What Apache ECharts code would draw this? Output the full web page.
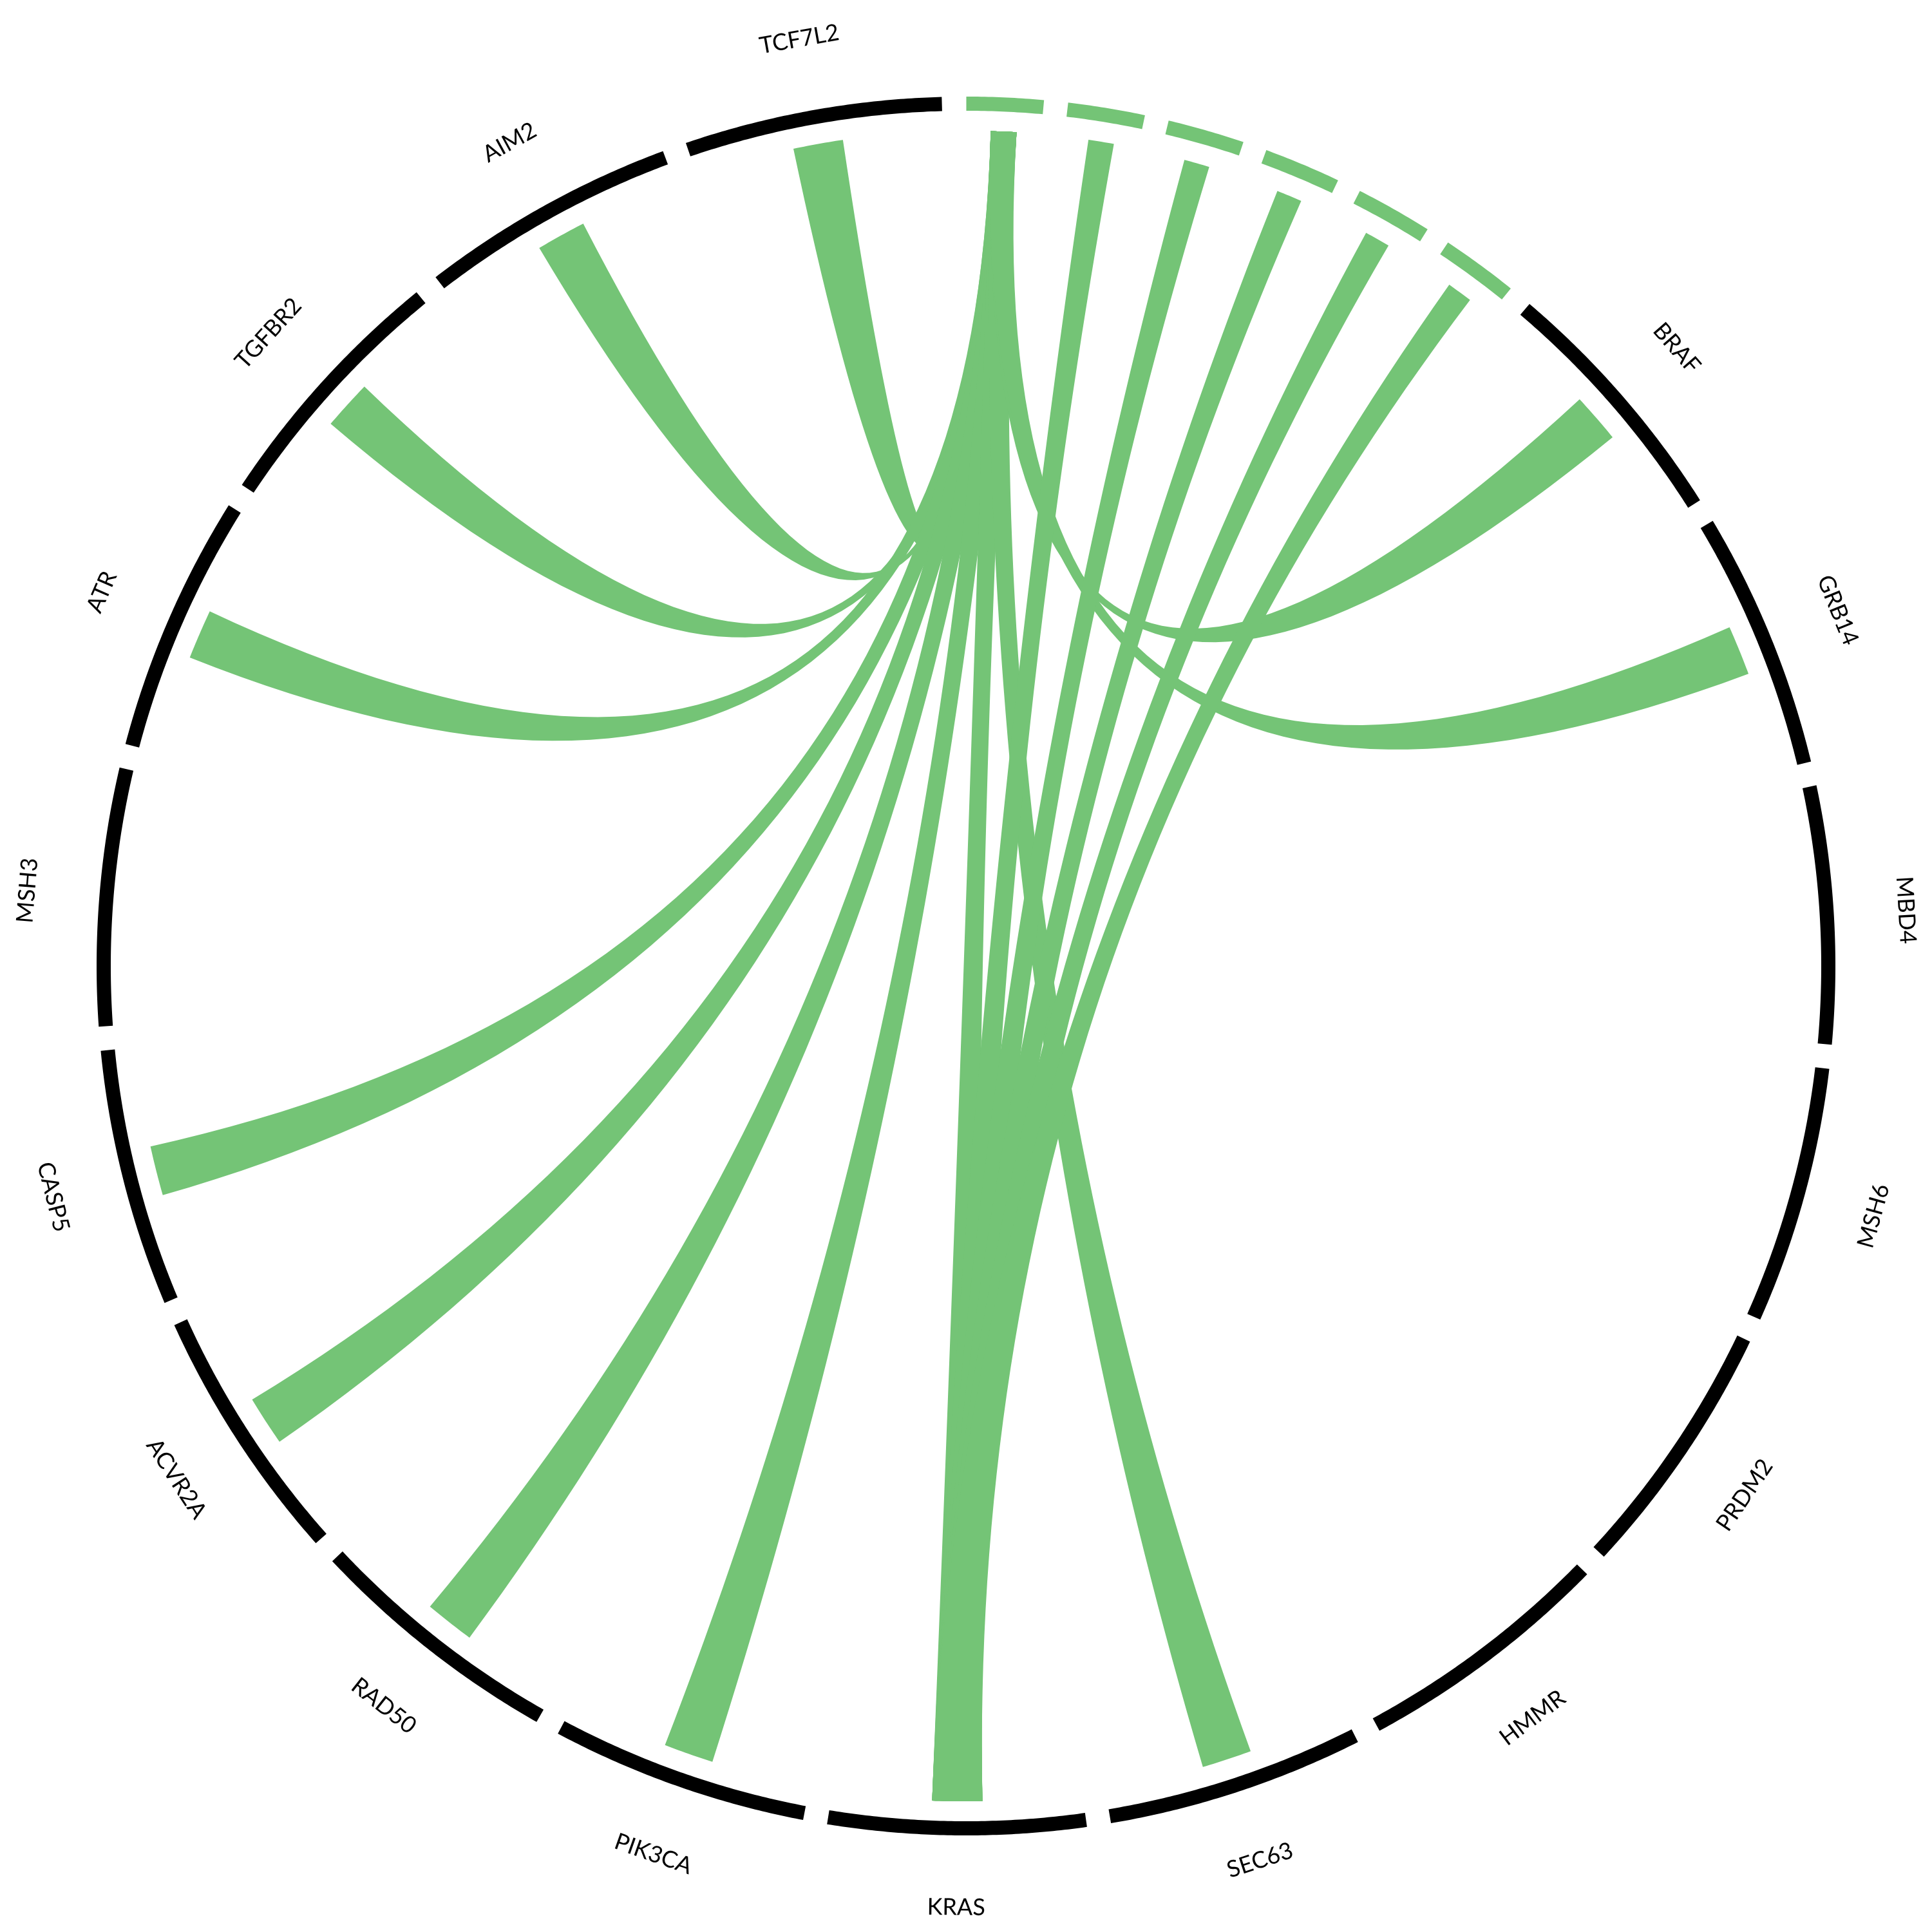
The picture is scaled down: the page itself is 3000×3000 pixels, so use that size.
<!DOCTYPE html>
<html>
<head>
<meta charset="utf-8">
<script src="https://cdn.jsdelivr.net/npm/echarts@6/dist/echarts.min.js"></script>
<style>
html,body{margin:0;padding:0;background:#ffffff;}
#chart{width:3000px;height:3000px;}
</style>
</head>
<body>
<div id="chart"></div>
<script>
// ---- data ----
// unlabeled source nodes (green), clockwise from the top
const sourceNodes = ['S1', 'S2', 'S3', 'S4', 'S5', 'S6'];
// labeled gene nodes (black), clockwise after the source nodes
const geneNodes = ['BRAF', 'GRB14', 'MBD4', 'MSH6', 'PRDM2', 'HMMR', 'SEC63', 'KRAS',
  'PIK3CA', 'RAD50', 'ACVR2A', 'CASP5', 'MSH3', 'ATR', 'TGFBR2', 'AIM2', 'TCF7L2'];
// links
const linkSource = ['S1', 'S1', 'S1', 'S1', 'S1', 'S1', 'S1', 'S1', 'S1', 'S1', 'S1', 'S1',
  'S2', 'S3', 'S4', 'S5', 'S6'];
const linkTarget = ['TCF7L2', 'AIM2', 'TGFBR2', 'ATR', 'CASP5', 'ACVR2A', 'RAD50', 'PIK3CA',
  'KRAS', 'SEC63', 'BRAF', 'GRB14', 'KRAS', 'KRAS', 'KRAS', 'KRAS', 'KRAS'];
const linkValue = [1, 1, 1, 1, 1, 1, 1, 1, 1, 1, 1, 1, 1, 1, 1, 1, 1];

// ---- layout constants (degrees / radius units) ----
const START_ANGLE = 0.02;
const GAP = 1.6;
const SOURCE_SPAN = 5.13;
const GENE_SPAN = 17.2;
const RING_OUTER = 1350;
const RING_INNER = 1328;
const CHORD_R = 1297;
const LABEL_R = 1462;
const SRC_WIDTH = 1.77;   // chord width at source per unit value (deg)
const TGT_WIDTH = 3.45;   // chord width at target per unit value (deg)
const GREEN = '#74c476';

// build node list
const nodes = [];
let cur = START_ANGLE;
sourceNodes.forEach(function (n) {
  nodes.push({ name: n, start: cur, end: cur + SOURCE_SPAN, kind: 'source' });
  cur += SOURCE_SPAN + GAP;
});
geneNodes.forEach(function (n) {
  nodes.push({ name: n, start: cur, end: cur + GENE_SPAN, kind: 'gene' });
  cur += GENE_SPAN + GAP;
});
const nodeMap = {};
nodes.forEach(function (n) { nodeMap[n.name] = n; });

function arcPoints(api, r, a0, a1, pts) {
  const steps = Math.max(4, Math.ceil(Math.abs(a1 - a0) / 0.25));
  for (let i = 0; i <= steps; i++) {
    const a = a0 + (a1 - a0) * i / steps;
    pts.push(api.coord([r, a]));
  }
}
function bezierPoints(p0, c, p2, pts) {
  const steps = 60;
  for (let i = 1; i < steps; i++) {
    const t = i / steps, u = 1 - t;
    pts.push([u * u * p0[0] + 2 * u * t * c[0] + t * t * p2[0],
              u * u * p0[1] + 2 * u * t * c[1] + t * t * p2[1]]);
  }
}

function renderNode(params, api) {
  const n = nodes[params.dataIndex];
  const pts = [];
  arcPoints(api, RING_OUTER, n.start, n.end, pts);
  const inner = [];
  arcPoints(api, RING_INNER, n.start, n.end, inner);
  inner.reverse();
  const children = [{
    type: 'polygon',
    shape: { points: pts.concat(inner) },
    style: { fill: n.kind === 'source' ? GREEN : '#000000' }
  }];
  if (n.kind === 'gene') {
    const mid = (n.start + n.end) / 2;
    const p = api.coord([LABEL_R, mid]);
    let rot = (mid > 90 && mid < 270) ? mid - 180 : mid;
    children.push({
      type: 'text',
      x: p[0], y: p[1],
      rotation: -rot * Math.PI / 180,
      style: {
        text: n.name,
        fill: '#000000',
        fontSize: 36,
        fontFamily: 'Lato',
        fontWeight: 'normal',
        align: 'center',
        verticalAlign: 'middle'
      }
    });
  }
  return { type: 'group', children: children };
}

function renderChord(params, api) {
  const k = params.dataIndex;
  const s = nodeMap[linkSource[k]], t = nodeMap[linkTarget[k]];
  const v = linkValue[k];
  const sm = (s.start + s.end) / 2, tm = (t.start + t.end) / 2;
  const sa = sm - SRC_WIDTH * v / 2, sb = sm + SRC_WIDTH * v / 2;
  const ta = tm - TGT_WIDTH * v / 2, tb = tm + TGT_WIDTH * v / 2;
  const c = api.coord([0, 0]);
  const pts = [];
  arcPoints(api, CHORD_R, sa, sb, pts);
  bezierPoints(api.coord([CHORD_R, sb]), c, api.coord([CHORD_R, ta]), pts);
  arcPoints(api, CHORD_R, ta, tb, pts);
  bezierPoints(api.coord([CHORD_R, tb]), c, api.coord([CHORD_R, sa]), pts);
  return { type: 'polygon', shape: { points: pts }, style: { fill: GREEN } };
}

const chart = echarts.init(document.getElementById('chart'), null, { renderer: 'canvas' });
chart.setOption({
  backgroundColor: '#ffffff',
  animation: false,
  polar: { center: ['50%', '50%'], radius: RING_OUTER },
  angleAxis: {
    type: 'value', min: 0, max: 360, startAngle: 90, clockwise: true,
    axisLine: { show: false }, axisTick: { show: false }, axisLabel: { show: false },
    splitLine: { show: false }
  },
  radiusAxis: {
    type: 'value', min: 0, max: RING_OUTER,
    axisLine: { show: false }, axisTick: { show: false }, axisLabel: { show: false },
    splitLine: { show: false }
  },
  series: [
    {
      type: 'custom', coordinateSystem: 'polar', silent: true,
      data: linkValue.map(function (v) { return [0, 0, v]; }),
      renderItem: renderChord
    },
    {
      type: 'custom', coordinateSystem: 'polar', silent: true,
      data: nodes.map(function () { return [0, 0]; }),
      renderItem: renderNode
    }
  ]
});
</script>
</body>
</html>
